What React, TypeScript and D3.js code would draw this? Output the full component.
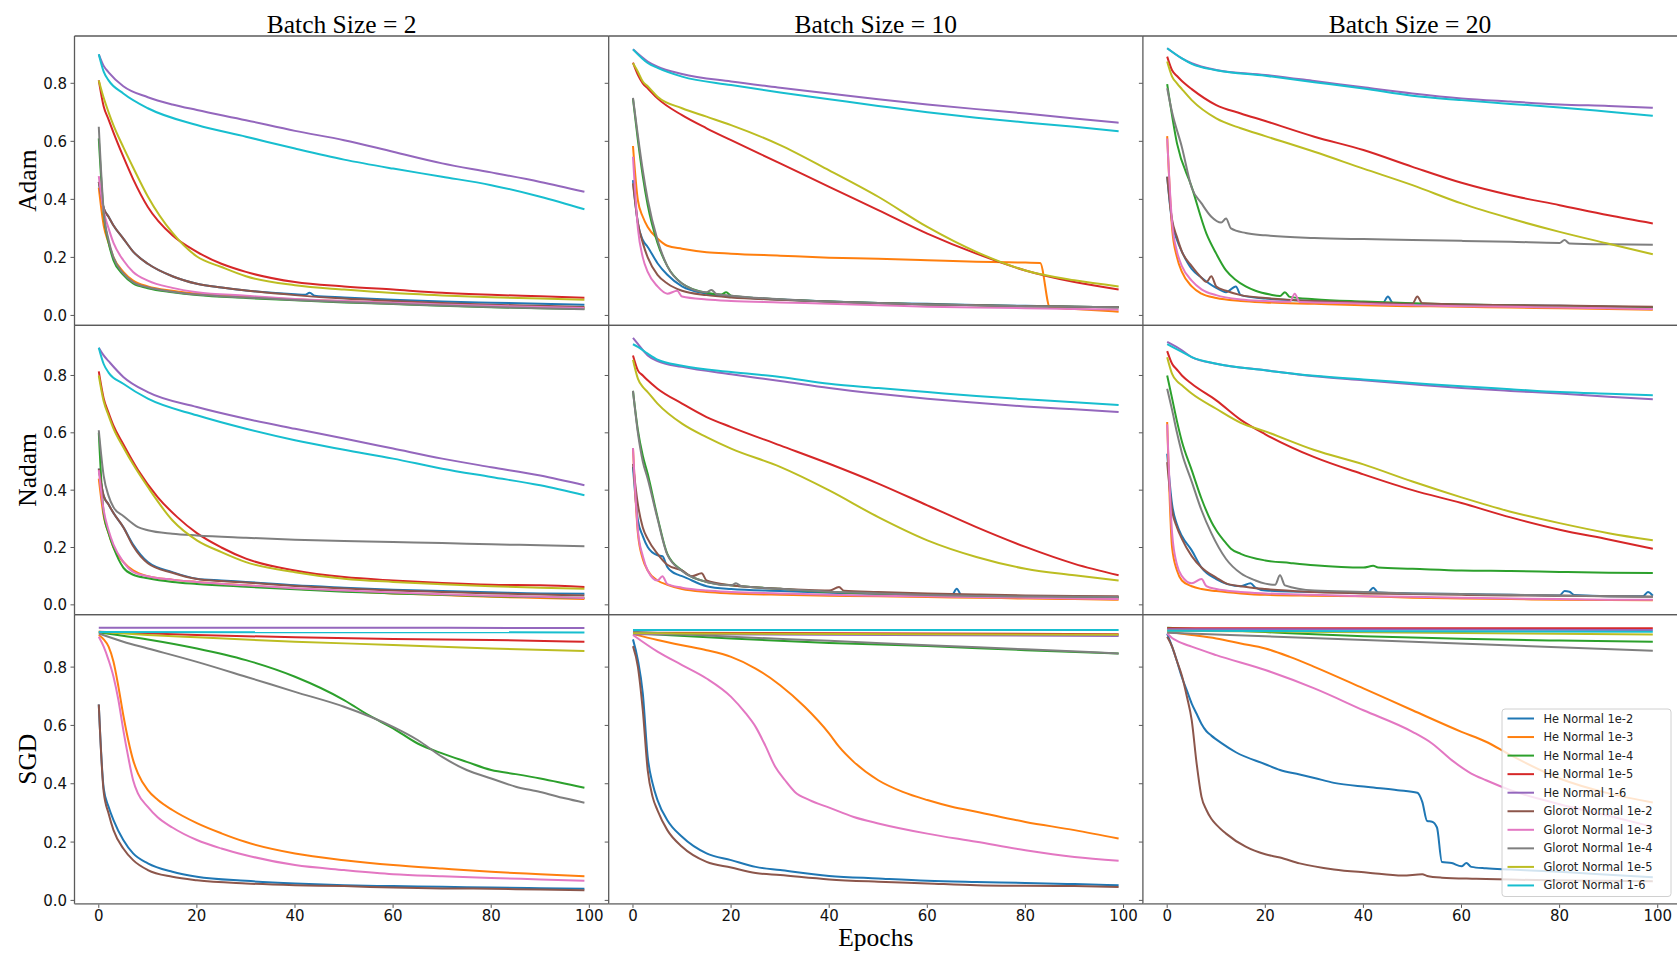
import React from 'react';
import * as d3 from 'd3';

// ---------- labels / styling data ----------
const SERIES_NAMES = [
  'He Normal 1e-2', 'He Normal 1e-3', 'He Normal 1e-4', 'He Normal 1e-5', 'He Normal 1-6',
  'Glorot Normal 1e-2', 'Glorot Normal 1e-3', 'Glorot Normal 1e-4', 'Glorot Normal 1e-5', 'Glorot Normal 1-6',
];
const COLORS = ['#1f77b4', '#ff7f0e', '#2ca02c', '#d62728', '#9467bd', '#8c564b', '#e377c2', '#7f7f7f', '#bcbd22', '#17becf'];
const COLUMN_TITLES = ['Batch Size = 2', 'Batch Size = 10', 'Batch Size = 20'];
const ROW_LABELS = ['Adam', 'Nadam', 'SGD'];
const X_TICKS = [0, 20, 40, 60, 80, 100];
const Y_TICKS = [0, 0.2, 0.4, 0.6, 0.8];
const X_DOMAIN = [-4.95, 103.95];
const ROW_Y_DOMAINS = [[-0.034, 0.963], [-0.034, 0.975], [-0.012, 0.98]];

// ---------- data: each series is a flat list of (epoch, loss) pairs ----------
// order of series in every panel = SERIES_NAMES order
const ADAM_BS2 = [
  [0,.46, 1,.37, 2,.34, 3,.31, 5,.265, 7,.22, 10,.178, 15,.135, 20,.109, 25,.096, 30,.086, 40,.073, 42,.071, 43,.078, 44,.068, 50,.062, 60,.054, 70,.048, 80,.044, 90,.04, 99,.037],
  [0,.44, 1,.31, 2,.25, 3,.2, 5,.15, 7,.12, 10,.1, 15,.085, 20,.075, 30,.064, 40,.055, 50,.049, 60,.044, 70,.039, 80,.034, 90,.03, 99,.027],
  [0,.61, 1,.35, 2,.25, 3,.19, 5,.14, 7,.11, 10,.094, 15,.08, 20,.07, 30,.06, 40,.052, 50,.045, 60,.039, 70,.033, 80,.028, 90,.025, 99,.022],
  [0,.81, 1,.72, 2,.675, 3,.63, 5,.547, 7,.47, 10,.374, 15,.276, 20,.219, 25,.178, 30,.15, 40,.115, 50,.1, 60,.089, 70,.078, 80,.071, 90,.066, 99,.061],
  [0,.90, 1,.86, 2,.838, 5,.79, 10,.752, 15,.727, 20,.708, 30,.673, 40,.636, 50,.604, 60,.564, 70,.524, 80,.493, 90,.46, 99,.426],
  [0,.46, 1,.37, 2,.34, 3,.31, 5,.265, 7,.22, 10,.178, 15,.135, 20,.109, 25,.096, 30,.086, 40,.07, 50,.058, 60,.05, 70,.043, 80,.037, 90,.033, 99,.029],
  [0,.48, 1,.36, 2,.3, 3,.25, 5,.19, 7,.15, 10,.12, 15,.095, 20,.08, 30,.068, 40,.057, 50,.05, 60,.044, 70,.038, 80,.033, 90,.029, 99,.026],
  [0,.65, 1,.36, 2,.26, 3,.2, 5,.145, 7,.115, 10,.097, 15,.082, 20,.072, 30,.062, 40,.053, 50,.046, 60,.04, 70,.034, 80,.029, 90,.025, 99,.021],
  [0,.81, 1,.75, 2,.70, 3,.655, 5,.58, 7,.51, 10,.41, 15,.285, 20,.203, 25,.167, 30,.135, 40,.104, 50,.089, 60,.077, 70,.069, 80,.063, 90,.058, 99,.054],
  [0,.90, 1,.84, 2,.81, 5,.765, 10,.714, 20,.656, 30,.616, 40,.575, 50,.537, 60,.506, 70,.478, 80,.449, 90,.409, 99,.366],
];
const ADAM_BS10 = [
  [0,.466, 1,.317, 2,.26, 3,.236, 5,.18, 7,.14, 10,.1, 15,.075, 20,.065, 30,.055, 40,.048, 50,.043, 60,.04, 70,.036, 80,.033, 90,.03, 99,.028],
  [0,.584, 1,.397, 2,.34, 3,.305, 5,.265, 7,.24, 10,.23, 15,.218, 20,.213, 30,.206, 40,.199, 50,.195, 60,.19, 70,.185, 80,.182, 83,.181, 85,.027, 90,.022, 99,.013],
  [0,.746, 1,.604, 2,.48, 3,.38, 5,.25, 7,.17, 10,.11, 15,.078, 18,.072, 19,.08, 20,.068, 30,.055, 40,.048, 50,.043, 60,.038, 70,.035, 80,.032, 90,.03, 99,.028],
  [0,.871, 1,.829, 2,.80, 3,.783, 5,.748, 10,.69, 15,.645, 20,.604, 30,.524, 40,.443, 50,.363, 60,.282, 70,.213, 80,.155, 90,.115, 99,.089],
  [0,.917, 3,.875, 5,.857, 10,.832, 20,.806, 30,.785, 40,.765, 50,.745, 60,.727, 70,.711, 80,.696, 90,.679, 99,.664],
  [0,.455, 1,.32, 2,.25, 3,.2, 5,.14, 7,.11, 10,.085, 15,.07, 20,.062, 30,.054, 40,.047, 50,.042, 60,.038, 70,.035, 80,.032, 90,.03, 99,.028],
  [0,.547, 1,.3, 2,.2, 3,.15, 5,.1, 7,.075, 9,.085, 10,.065, 15,.055, 20,.05, 30,.045, 40,.04, 50,.035, 60,.03, 70,.027, 80,.025, 90,.022, 99,.02],
  [0,.75, 1,.62, 2,.5, 3,.4, 5,.26, 7,.17, 10,.11, 15,.08, 16,.088, 17,.074, 20,.068, 30,.056, 40,.048, 50,.043, 60,.038, 70,.035, 80,.032, 90,.03, 99,.028],
  [0,.869, 1,.84, 2,.806, 3,.79, 5,.754, 10,.714, 15,.685, 20,.656, 30,.587, 40,.5, 50,.409, 60,.305, 70,.219, 80,.155, 90,.121, 99,.1],
  [0,.917, 3,.87, 5,.853, 10,.823, 20,.794, 30,.768, 40,.745, 50,.722, 60,.70, 70,.681, 80,.665, 90,.65, 99,.635],
];
const ADAM_BS20 = [
  [0,.478, 1,.32, 2,.26, 3,.22, 5,.16, 7,.13, 10,.095, 12,.08, 14,.1, 15,.07, 20,.058, 30,.05, 40,.045, 44,.044, 45,.065, 46,.043, 50,.04, 60,.037, 70,.035, 80,.033, 90,.03, 99,.027],
  [0,.618, 1,.3, 2,.2, 3,.15, 5,.1, 7,.075, 10,.06, 15,.05, 20,.045, 30,.04, 40,.035, 50,.032, 60,.03, 70,.027, 80,.025, 90,.022, 99,.02],
  [0,.797, 2,.593, 5,.443, 8,.282, 10,.213, 12,.155, 14,.122, 16,.1, 18,.085, 21,.072, 23,.067, 24,.08, 25,.064, 30,.056, 40,.048, 50,.042, 60,.038, 70,.035, 80,.032, 90,.03, 99,.028],
  [0,.892, 1,.845, 2,.825, 3,.808, 5,.78, 10,.725, 15,.696, 20,.67, 30,.616, 40,.57, 50,.512, 60,.457, 70,.414, 80,.38, 90,.345, 99,.317],
  [0,.921, 3,.886, 5,.869, 10,.846, 20,.829, 30,.808, 40,.786, 50,.765, 60,.748, 70,.737, 80,.727, 90,.722, 99,.716],
  [0,.478, 1,.33, 2,.27, 3,.22, 5,.17, 7,.13, 8,.115, 9,.135, 10,.1, 12,.085, 15,.07, 20,.06, 30,.05, 40,.045, 50,.04, 51,.065, 52,.042, 60,.038, 70,.035, 80,.034, 90,.032, 99,.03],
  [0,.61, 1,.32, 2,.22, 3,.17, 5,.12, 7,.09, 10,.07, 15,.055, 20,.05, 25,.047, 26,.075, 27,.046, 30,.045, 40,.04, 50,.035, 60,.032, 70,.03, 80,.027, 90,.025, 99,.022],
  [0,.783, 1,.70, 3,.58, 5,.44, 7,.386, 9,.34, 11,.32, 12,.334, 13,.3, 16,.284, 20,.276, 30,.267, 40,.263, 50,.26, 60,.257, 70,.254, 80,.25, 81,.26, 82,.248, 90,.245, 99,.244],
  [0,.875, 1,.823, 2,.80, 3,.78, 5,.742, 10,.679, 15,.645, 20,.618, 30,.564, 40,.506, 50,.449, 60,.386, 70,.334, 80,.288, 90,.247, 99,.211],
  [0,.921, 3,.886, 5,.867, 10,.845, 20,.826, 30,.804, 40,.782, 50,.757, 60,.742, 70,.729, 80,.717, 90,.702, 99,.688],
];
const NADAM_BS2 = [
  [0,.475, 1,.38, 2,.35, 3,.32, 5,.271, 7,.21, 10,.149, 15,.114, 20,.091, 25,.085, 30,.08, 40,.068, 50,.06, 60,.053, 70,.048, 80,.044, 90,.04, 99,.039],
  [0,.44, 1,.31, 2,.25, 3,.2, 5,.15, 7,.12, 10,.1, 15,.088, 20,.08, 30,.068, 40,.056, 50,.048, 60,.04, 70,.034, 80,.028, 90,.024, 99,.02],
  [0,.6, 1,.32, 2,.25, 3,.2, 5,.13, 7,.105, 10,.093, 15,.08, 20,.073, 30,.063, 40,.054, 50,.046, 60,.04, 70,.035, 80,.03, 90,.027, 99,.024],
  [0,.814, 1,.72, 2,.67, 3,.625, 5,.56, 8,.47, 12,.376, 16,.306, 20,.25, 25,.2, 30,.161, 40,.12, 50,.097, 60,.085, 70,.076, 80,.07, 90,.068, 99,.062],
  [0,.897, 1,.87, 2,.85, 5,.795, 10,.742, 20,.69, 30,.649, 40,.614, 50,.58, 60,.545, 70,.51, 80,.48, 90,.451, 99,.417],
  [0,.475, 1,.38, 2,.35, 3,.32, 5,.271, 7,.205, 10,.145, 15,.112, 20,.09, 25,.083, 30,.078, 40,.066, 50,.057, 60,.05, 70,.045, 80,.04, 90,.036, 99,.033],
  [0,.47, 1,.33, 2,.26, 3,.21, 5,.15, 7,.115, 10,.1, 15,.088, 20,.08, 30,.068, 40,.058, 50,.05, 60,.043, 70,.037, 80,.032, 90,.028, 99,.024],
  [0,.609, 1,.45, 2,.38, 3,.34, 5,.31, 8,.271, 10,.26, 15,.248, 20,.242, 30,.234, 40,.227, 50,.223, 60,.219, 70,.216, 80,.211, 90,.208, 99,.204],
  [0,.80, 1,.71, 2,.66, 3,.615, 5,.55, 7,.49, 10,.411, 15,.295, 20,.225, 25,.184, 30,.149, 40,.114, 50,.091, 60,.08, 70,.072, 80,.065, 90,.06, 99,.056],
  [0,.897, 1,.84, 2,.81, 5,.771, 10,.719, 20,.661, 30,.614, 40,.574, 50,.541, 60,.51, 70,.475, 80,.446, 90,.417, 99,.382],
];
const NADAM_BS10 = [
  [0,.481, 1,.295, 2,.24, 3,.202, 5,.173, 6,.17, 7,.132, 8,.115, 9,.106, 10,.1, 15,.065, 20,.055, 30,.048, 40,.042, 50,.038, 60,.035, 65,.034, 66,.056, 67,.033, 70,.032, 80,.03, 90,.028, 99,.026],
  [0,.547, 1,.25, 2,.16, 3,.12, 5,.085, 7,.07, 10,.055, 15,.045, 20,.04, 30,.035, 40,.032, 50,.03, 60,.027, 70,.025, 80,.022, 90,.02, 99,.018],
  [0,.746, 1,.609, 2,.52, 3,.457, 5,.306, 7,.178, 10,.12, 15,.08, 20,.068, 30,.056, 40,.045, 50,.039, 60,.033, 70,.03, 80,.028, 90,.027, 99,.026],
  [0,.87, 1,.818, 2,.80, 3,.783, 5,.754, 10,.702, 15,.655, 20,.62, 30,.556, 40,.492, 50,.423, 60,.347, 70,.271, 80,.202, 90,.143, 99,.103],
  [0,.931, 1,.91, 3,.87, 5,.85, 10,.83, 20,.804, 30,.781, 40,.756, 50,.736, 60,.719, 70,.705, 80,.692, 90,.682, 99,.673],
  [0,.492, 1,.35, 2,.27, 3,.23, 5,.178, 7,.14, 10,.12, 12,.1, 14,.11, 15,.085, 20,.068, 30,.056, 40,.05, 42,.062, 43,.049, 50,.045, 60,.04, 70,.036, 80,.033, 90,.031, 99,.03],
  [0,.547, 1,.26, 2,.17, 3,.12, 5,.085, 6,.1, 7,.072, 10,.06, 15,.05, 20,.045, 30,.04, 40,.035, 50,.032, 60,.03, 70,.027, 80,.025, 90,.022, 99,.02],
  [0,.746, 1,.6, 2,.5, 3,.44, 5,.3, 7,.175, 10,.118, 15,.08, 20,.068, 21,.075, 22,.066, 30,.056, 40,.046, 50,.04, 60,.034, 70,.031, 80,.029, 90,.028, 99,.027],
  [0,.855, 1,.789, 2,.76, 3,.742, 5,.702, 10,.632, 15,.585, 20,.545, 30,.481, 40,.399, 50,.306, 60,.225, 70,.167, 80,.126, 90,.103, 99,.085],
  [0,.909, 1,.9, 3,.876, 5,.855, 10,.834, 20,.812, 30,.795, 40,.771, 50,.756, 60,.742, 70,.728, 80,.717, 90,.707, 99,.697],
];
const NADAM_BS20 = [
  [0,.527, 1,.35, 2,.28, 3,.24, 5,.19, 7,.13, 10,.09, 15,.065, 17,.075, 18,.06, 20,.05, 30,.045, 41,.044, 42,.06, 43,.043, 50,.04, 60,.038, 70,.035, 80,.033, 81,.048, 82,.046, 83,.034, 90,.03, 97,.03, 98,.045, 99,.032],
  [0,.638, 1,.2, 2,.12, 3,.085, 5,.065, 7,.055, 10,.048, 15,.04, 20,.035, 30,.032, 40,.03, 50,.025, 60,.022, 70,.02, 80,.018, 90,.017, 99,.016],
  [0,.80, 1,.72, 2,.64, 3,.57, 5,.47, 7,.37, 9,.29, 10,.26, 12,.215, 13,.196, 15,.178, 20,.155, 25,.146, 30,.138, 40,.13, 42,.136, 43,.13, 50,.126, 60,.12, 70,.118, 80,.115, 90,.112, 99,.111],
  [0,.885, 1,.841, 2,.82, 3,.80, 5,.771, 10,.713, 15,.645, 20,.595, 30,.515, 40,.455, 50,.40, 60,.355, 70,.305, 80,.262, 90,.228, 99,.196],
  [0,.917, 3,.888, 5,.864, 10,.841, 20,.818, 30,.797, 40,.783, 50,.769, 60,.756, 70,.746, 80,.737, 90,.726, 99,.717],
  [0,.498, 1,.33, 2,.27, 3,.23, 5,.17, 7,.13, 10,.095, 12,.075, 15,.065, 20,.055, 30,.045, 40,.04, 50,.038, 60,.035, 70,.033, 80,.032, 90,.03, 99,.028],
  [0,.63, 1,.25, 2,.14, 3,.1, 5,.075, 7,.09, 8,.065, 10,.055, 15,.045, 20,.04, 30,.035, 40,.03, 50,.028, 60,.025, 70,.022, 80,.02, 90,.018, 99,.018],
  [0,.754, 1,.68, 2,.6, 3,.53, 5,.43, 7,.33, 9,.25, 12,.16, 15,.11, 18,.085, 20,.074, 22,.07, 23,.103, 24,.068, 30,.05, 40,.045, 50,.04, 60,.038, 70,.035, 80,.033, 90,.03, 99,.028],
  [0,.864, 1,.806, 2,.78, 3,.766, 5,.737, 10,.684, 15,.635, 20,.605, 30,.54, 40,.49, 50,.43, 60,.375, 70,.325, 80,.285, 90,.25, 99,.225],
  [0,.909, 3,.882, 5,.864, 10,.841, 20,.818, 30,.799, 40,.786, 50,.774, 60,.762, 70,.752, 80,.742, 90,.736, 99,.731],
];
const SGD_BS2 = [
  [0,.672, 1,.384, 2,.321, 3,.275, 5,.207, 7,.161, 10,.127, 15,.098, 20,.081, 30,.067, 40,.058, 50,.052, 60,.049, 70,.047, 80,.044, 90,.042, 99,.04],
  [0,.91, 1,.895, 2,.87, 3,.818, 4,.733, 5,.635, 6,.55, 7,.481, 8,.435, 10,.378, 12,.345, 15,.31, 20,.265, 25,.23, 30,.2, 40,.161, 50,.138, 60,.121, 70,.109, 80,.098, 90,.09, 99,.083],
  [0,.919, 10,.895, 20,.864, 30,.824, 40,.767, 50,.687, 55,.635, 60,.59, 65,.538, 70,.504, 75,.475, 80,.447, 85,.433, 90,.418, 99,.386],
  [0,.921, 20,.91, 40,.902, 60,.896, 80,.893, 99,.887],
  [0,.935, 50,.935, 99,.934],
  [0,.672, 1,.372, 2,.298, 3,.241, 5,.178, 7,.138, 10,.104, 15,.081, 20,.069, 30,.058, 40,.052, 50,.049, 60,.044, 70,.041, 80,.04, 90,.037, 99,.035],
  [0,.904, 1,.87, 2,.824, 3,.767, 4,.687, 5,.584, 6,.492, 7,.412, 8,.366, 10,.321, 12,.285, 15,.25, 20,.207, 25,.178, 30,.155, 40,.121, 50,.104, 60,.09, 70,.083, 80,.077, 90,.072, 99,.067],
  [0,.915, 5,.887, 10,.864, 20,.818, 30,.767, 40,.715, 50,.664, 60,.595, 65,.55, 70,.492, 75,.447, 80,.418, 85,.39, 90,.372, 95,.35, 99,.335],
  [0,.921, 10,.91, 20,.902, 40,.887, 60,.876, 80,.864, 99,.855],
  [0,.92, 99,.919],
];
const SGD_BS10 = [
  [0,.895, 1,.824, 2,.71, 3,.492, 4,.401, 5,.344, 7,.275, 10,.218, 15,.161, 20,.138, 25,.115, 30,.104, 40,.084, 50,.075, 60,.067, 70,.063, 80,.06, 90,.056, 99,.052],
  [0,.913, 5,.893, 10,.875, 15,.858, 20,.835, 25,.795, 30,.738, 35,.664, 40,.572, 42,.527, 45,.475, 50,.412, 55,.372, 60,.344, 65,.321, 70,.304, 80,.269, 90,.241, 99,.212],
  [0,.916, 20,.898, 40,.883, 60,.872, 80,.858, 99,.847],
  [0,.918, 99,.913],
  [0,.913, 99,.907],
  [0,.872, 1,.801, 2,.652, 3,.447, 4,.355, 5,.309, 7,.241, 10,.184, 15,.132, 20,.113, 25,.094, 30,.087, 40,.072, 50,.064, 60,.058, 70,.052, 80,.05, 90,.049, 99,.046],
  [0,.91, 5,.853, 10,.807, 15,.761, 20,.698, 23,.641, 25,.595, 27,.53, 29,.458, 31,.412, 33,.372, 36,.344, 40,.318, 45,.286, 50,.264, 60,.229, 70,.201, 80,.172, 90,.149, 99,.136],
  [0,.921, 20,.904, 40,.89, 60,.875, 80,.861, 99,.847],
  [0,.916, 99,.911],
  [0,.927, 99,.927],
];
const SGD_BS20 = [
  [0,.915, 1,.87, 2,.82, 3,.765, 4,.72, 5,.675, 6,.64, 7,.605, 8,.58, 9,.565, 11,.54, 14,.508, 20,.467, 23,.447, 27,.432, 30,.42, 34,.403, 41,.389, 47,.378, 51,.369, 52,.338, 53,.272, 54,.27, 55,.25, 56,.132, 58,.128, 60,.117, 61,.128, 62,.115, 65,.11, 70,.106, 80,.098, 90,.088, 99,.079],
  [0,.921, 5,.91, 10,.898, 15,.881, 20,.864, 25,.835, 30,.801, 40,.727, 50,.652, 60,.578, 65,.544, 70,.498, 80,.418, 90,.367, 99,.336],
  [0,.935, 20,.92, 40,.906, 60,.897, 80,.891, 99,.887],
  [0,.933, 99,.933],
  [0,.93, 99,.927],
  [0,.904, 1,.87, 2,.82, 3,.77, 4,.70, 5,.618, 6,.47, 7,.355, 8,.31, 9,.28, 10,.26, 12,.229, 16,.184, 20,.158, 23,.147, 27,.127, 34,.106, 41,.095, 48,.085, 52,.09, 53,.084, 56,.078, 63,.074, 78,.069, 99,.066],
  [0,.915, 1,.9, 2,.89, 5,.87, 10,.841, 20,.79, 30,.727, 40,.652, 50,.578, 54,.538, 58,.481, 62,.435, 65,.412, 70,.378, 80,.33, 90,.29, 99,.252],
  [0,.918, 50,.887, 99,.856],
  [0,.925, 99,.912],
  [0,.925, 99,.921],
];

const PANEL_DATA = [
  [ADAM_BS2, ADAM_BS10, ADAM_BS20],
  [NADAM_BS2, NADAM_BS10, NADAM_BS20],
  [SGD_BS2, SGD_BS10, SGD_BS20],
];

// ---------- layout ----------
const W = 1677, H = 955;
const LEFT = 74.5, TOP = 36, PW = 534.2, PH = 289.3;
const SPINE = '#5a5a5a';
const TICK_FONT = "'DejaVu Sans', sans-serif";
const SERIF = "'Liberation Serif', 'Times New Roman', serif";

function toPairs(flat: number[]): [number, number][] {
  const out: [number, number][] = [];
  for (let i = 0; i < flat.length; i += 2) out.push([flat[i], flat[i + 1]]);
  return out;
}

function Panel({ r, c }: { r: number; c: number }) {
  const x0 = LEFT + c * PW;
  const y0 = TOP + r * PH;
  const xs = d3.scaleLinear().domain(X_DOMAIN).range([x0, x0 + PW]);
  const ys = d3.scaleLinear().domain(ROW_Y_DOMAINS[r]).range([y0 + PH, y0]);
  const line = d3.line<[number, number]>()
    .x((d) => xs(d[0]))
    .y((d) => ys(d[1]))
    .curve(d3.curveMonotoneX);
  const series = PANEL_DATA[r][c];
  return (
    <g>
      {series.map((s, i) => (
        <path key={i} d={line(toPairs(s)) || ''} fill="none" stroke={COLORS[i]} strokeWidth={2}
          strokeLinejoin="round" strokeLinecap="butt" />
      ))}
      {/* y ticks */}
      {Y_TICKS.map((t) => (
        <g key={t}>
          <line x1={x0 - 4} x2={x0} y1={ys(t)} y2={ys(t)} stroke={SPINE} strokeWidth={1} />
          {c === 0 && (
            <text x={x0 - 7.5} y={ys(t) + 5.5} textAnchor="end" fontSize={15} fontFamily={TICK_FONT} fill="#111">
              {t.toFixed(1)}
            </text>
          )}
        </g>
      ))}
      {/* x ticks on bottom row */}
      {r === 2 && X_TICKS.map((t) => (
        <g key={t}>
          <line x1={xs(t)} x2={xs(t)} y1={y0 + PH} y2={y0 + PH + 4} stroke={SPINE} strokeWidth={1} />
          <text x={xs(t)} y={y0 + PH + 17} textAnchor="middle" fontSize={15} fontFamily={TICK_FONT} fill="#111">
            {t}
          </text>
        </g>
      ))}
      {/* spines */}
      <line x1={x0} x2={x0} y1={y0} y2={y0 + PH} stroke={SPINE} strokeWidth={1.3} />
      <line x1={x0} x2={x0 + PW} y1={y0} y2={y0} stroke={SPINE} strokeWidth={1.3} />
      <line x1={x0} x2={x0 + PW} y1={y0 + PH} y2={y0 + PH} stroke={r === 2 ? '#888' : SPINE} strokeWidth={r === 2 ? 1.6 : 1.3} />
    </g>
  );
}

function Legend() {
  const lx = 1502, ly = 709, lw = 169, lh = 187.5;
  const rowH = 18.55;
  return (
    <g>
      <rect x={lx} y={ly} width={lw} height={lh} rx={3} fill="#fff" fillOpacity={0.8} stroke="#d0d0d0" strokeWidth={1} />
      {SERIES_NAMES.map((n, i) => {
        const cy = ly + 9.5 + i * rowH;
        return (
          <g key={n}>
            <line x1={lx + 5.5} x2={lx + 32} y1={cy} y2={cy} stroke={COLORS[i]} strokeWidth={2} />
            <text x={lx + 41.5} y={cy + 4} fontSize={11.4} fontFamily={TICK_FONT} fill="#222">{n}</text>
          </g>
        );
      })}
    </g>
  );
}

export default function App() {
  return (
    <svg width={W} height={H} viewBox={`0 0 ${W} ${H}`}
      style={{ position: 'absolute', left: 0, top: 0, background: '#fff' }}>
      <rect x={0} y={0} width={W} height={H} fill="#fff" />
      {ROW_LABELS.map((_, r) => COLUMN_TITLES.map((__, c) => <Panel key={`${r}-${c}`} r={r} c={c} />))}
      {COLUMN_TITLES.map((t, c) => (
        <text key={t} x={LEFT + c * PW + PW / 2} y={32.5} textAnchor="middle" fontSize={25.5} fontFamily={SERIF} fill="#000">{t}</text>
      ))}
      {ROW_LABELS.map((t, r) => {
        const cy = TOP + r * PH + PH / 2;
        return (
          <text key={t} transform={`translate(36,${cy}) rotate(-90)`} textAnchor="middle" fontSize={25.5} fontFamily={SERIF} fill="#000">{t}</text>
        );
      })}
      <text x={LEFT + PW * 1.5} y={946} textAnchor="middle" fontSize={25.5} fontFamily={SERIF} fill="#000">Epochs</text>
      <Legend />
    </svg>
  );
}
